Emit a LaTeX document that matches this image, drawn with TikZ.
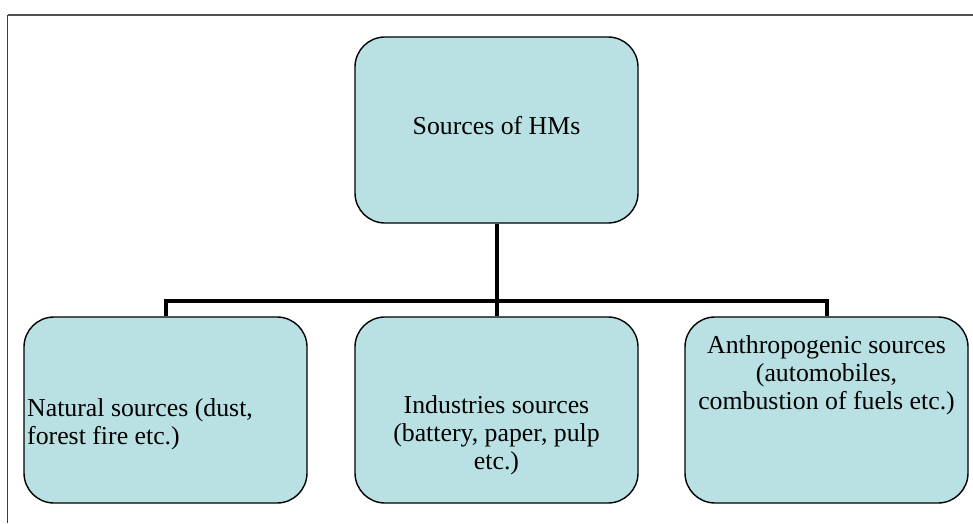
\documentclass[tikz,border=0pt]{standalone}
\usepackage{fontspec}
\setmainfont{Liberation Serif}
\definecolor{boxfill}{RGB}{185,224,227}
\definecolor{frame}{RGB}{80,80,80}
\begin{document}
\begin{tikzpicture}[x=1pt,y=-1pt,
  hbox/.style={draw=black,line width=1.4pt,fill=boxfill,rounded corners=30pt,
    minimum width=283pt,minimum height=186pt,inner sep=0pt},
  lbl/.style={inner sep=0pt,font=\fontsize{25.8}{28.3}\selectfont},
  conn/.style={line width=4pt,draw=black}]
\useasboundingbox (0,0) rectangle (973,523);
\draw[frame,line width=2pt] (7.5,15) -- (973,15);
\draw[frame!70!black,line width=1.5pt] (7.5,15) -- (7.5,523);
\node[hbox] (top) at (496.5,130) {};
\node[hbox] (left) at (165.5,410) {};
\node[hbox] (mid) at (496.5,410) {};
\node[hbox] (right) at (826.5,410) {};
\coordinate (j) at (496.5,301);
\draw[conn] (top.south) -- (mid.north);
\draw[conn] (left.north) |- (j) -| (right.north);
\node[lbl,anchor=north] (ttop) at (496.5,114) {\rule{0pt}{20pt}Sources of HMs};
\node[lbl,anchor=north west,align=left] (tleft) at (27,396) {\rule{0pt}{20pt}Natural sources (dust,\\forest fire etc.)};
\node[lbl,anchor=north,align=center] (tmid) at (496.5,393) {\rule{0pt}{20pt}Industries sources\\(battery, paper, pulp\\etc.)};
\node[lbl,anchor=north,align=center] (tright) at (826.5,333) {\rule{0pt}{20pt}Anthropogenic sources\\(automobiles,\\combustion of fuels etc.)};
\end{tikzpicture}
\end{document}
